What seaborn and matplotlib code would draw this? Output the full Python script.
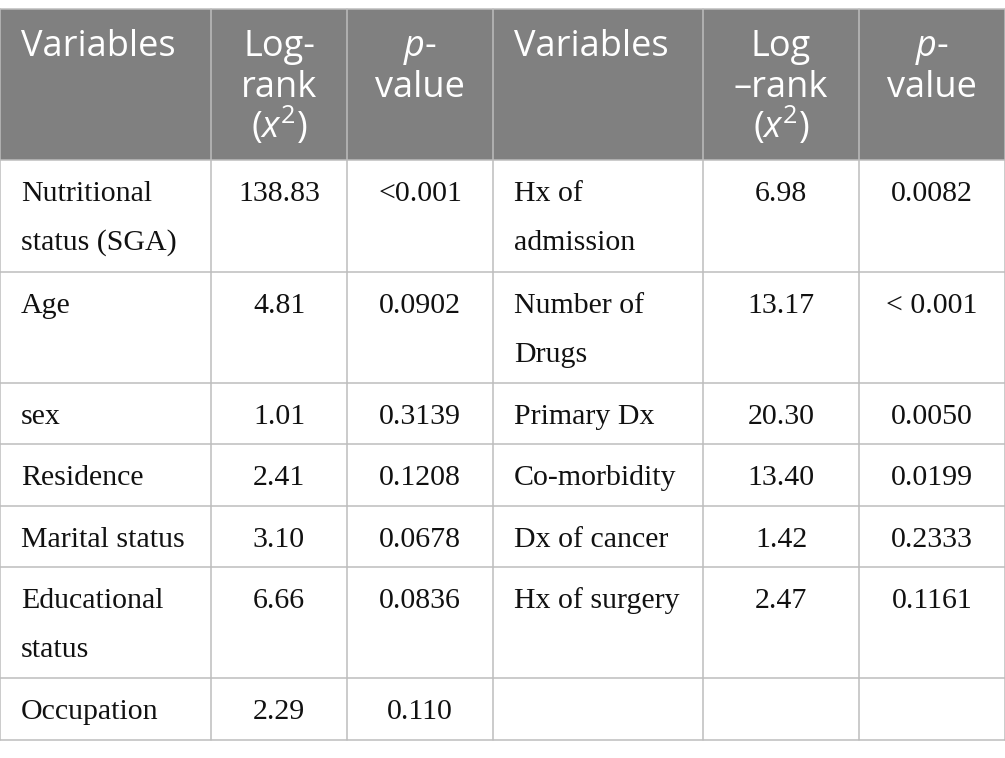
#!/usr/bin/env python3
# Log-rank test table drawn as a figure

import matplotlib
matplotlib.use("Agg")
import matplotlib.pyplot as plt
from matplotlib.patches import Rectangle
import seaborn as sns

left_vars = ["Nutritional\nstatus (SGA)", "Age", "sex", "Residence",
             "Marital status", "Educational\nstatus", "Occupation"]
left_logrank = ["138.83", "4.81", "1.01", "2.41", "3.10", "6.66", "2.29"]
left_p = ["<0.001", "0.0902", "0.3139", "0.1208", "0.0678", "0.0836", "0.110"]

right_vars = ["Hx of\nadmission", "Number of\nDrugs", "Primary Dx", "Co-morbidity",
              "Dx of cancer", "Hx of surgery", ""]
right_logrank = ["6.98", "13.17", "20.30", "13.40", "1.42", "2.47", ""]
right_p = ["0.0082", "< 0.001", "0.0050", "0.0199", "0.2333", "0.1161", ""]

header_left = ["Variables", "Log-\nrank\n$(x^2)$", "$p$-\nvalue"]
header_right = ["Variables", "Log\n\u2013rank\n$(x^2)$", "$p$-\nvalue"]

# layout in pixels
col_edges = [0, 211, 347, 493, 703, 859, 1005]
row_edges = [9, 160, 272, 383, 444, 506, 567, 678, 740]

HEAD_BG = "#808080"
GRID = "#bdbdbd"
SANS = "Open Sans"
SERIF = "Liberation Serif"


def main():
    sns.set_theme(style="white")
    plt.rcParams["mathtext.fontset"] = "custom"
    plt.rcParams["mathtext.rm"] = SANS
    plt.rcParams["mathtext.it"] = SANS + ":italic"

    fig = plt.figure(figsize=(10.05, 7.58), dpi=100)
    ax = fig.add_axes([0, 0, 1, 1])
    ax.set_xlim(0, 1005)
    ax.set_ylim(758, 0)
    ax.axis("off")

    # header background
    ax.add_patch(Rectangle((0, row_edges[0]), 1005, row_edges[1] - row_edges[0],
                           facecolor=HEAD_BG, edgecolor="none", zorder=0))

    # grid lines
    for y in row_edges:
        ax.plot([0, 1005], [y, y], color=GRID, lw=1.1, zorder=1)
    for x in col_edges:
        ax.plot([x, x], [row_edges[0], row_edges[-1]], color=GRID, lw=1.1, zorder=1)

    # header text
    heads = header_left + header_right
    for j, h in enumerate(heads):
        for k, line in enumerate(h.split("\n")):
            y = row_edges[0] + 47 + k * 41
            if j % 3 == 0:
                ax.text(col_edges[j] + 21, y, line, ha="left", va="baseline",
                        color="white", fontsize=26, family=SANS)
            else:
                xc = (col_edges[j] + col_edges[j + 1]) / 2
                ax.text(xc, y, line, ha="center", va="baseline",
                        color="white", fontsize=26, family=SANS)

    # body
    cols = [left_vars, left_logrank, left_p, right_vars, right_logrank, right_p]
    for j, col in enumerate(cols):
        for i, val in enumerate(col):
            top = row_edges[i + 1]
            for k, line in enumerate(val.split("\n")):
                y = top + 41 + k * 49
                if j % 3 == 0:
                    ax.text(col_edges[j] + 21, y, line, ha="left", va="baseline",
                            color="#111111", fontsize=21.5, family=SERIF)
                else:
                    xc = (col_edges[j] + col_edges[j + 1]) / 2
                    ax.text(xc, y, line, ha="center", va="baseline",
                            color="#111111", fontsize=21.5, family=SERIF)

    fig.savefig("out.png", dpi=100, facecolor="white")


if __name__ == "__main__":
    main()
